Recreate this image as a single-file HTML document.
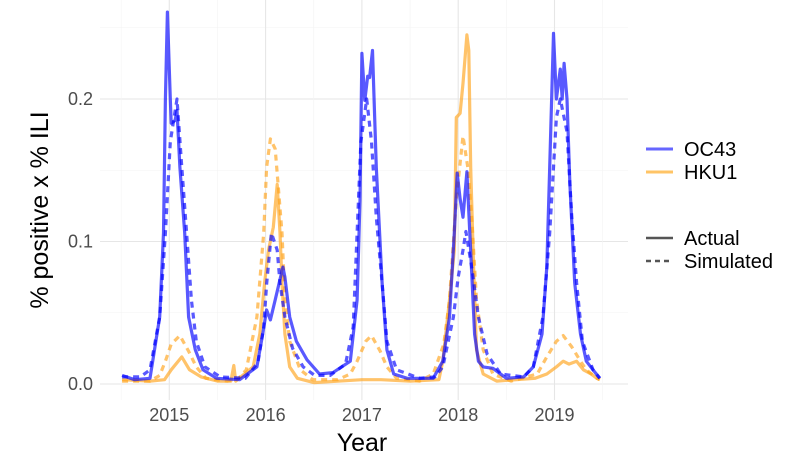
<!DOCTYPE html>
<html><head><meta charset="utf-8"><style>
body{margin:0;background:#fff;}
svg{display:block;font-family:"Liberation Sans",sans-serif;}
</style></head><body>
<svg id="chart" width="797" height="470" xmlns="http://www.w3.org/2000/svg">
<g id="grid"></g>
<g id="series"></g>
<g id="axes"></g>
<text transform="translate(48,210) rotate(-90)" text-anchor="middle" font-size="25" fill="#000">% positive x % ILI</text>
<text x="362" y="451" text-anchor="middle" font-size="25" fill="#000">Year</text>
<g>
<line x1="646" y1="149" x2="673" y2="149" stroke="#6666ff" stroke-width="3"/>
<text x="684" y="156" font-size="20">OC43</text>
<line x1="646" y1="172" x2="673" y2="172" stroke="#ffc466" stroke-width="3"/>
<text x="684" y="179" font-size="20">HKU1</text>
<line x1="646" y1="238" x2="673" y2="238" stroke="#555" stroke-width="2.5"/>
<text x="684" y="245" font-size="20">Actual</text>
<line x1="646" y1="261" x2="673" y2="261" stroke="#555" stroke-width="2.5" stroke-dasharray="5,4"/>
<text x="684" y="268" font-size="20">Simulated</text>
</g>
</svg>
<script>
const yTicks=[0,0.1,0.2];
const yTickLabels=["0.0","0.1","0.2"];
const xTicks=[2015,2016,2017,2018,2019];
const xTickLabels=["2015","2016","2017","2018","2019"];
const oc43ActualYears=[2014.51,2014.64,2014.80,2014.90,2014.94,2014.96,2014.98,2015.01,2015.02,2015.06,2015.08,2015.11,2015.16,2015.20,2015.27,2015.35,2015.49,2015.73,2015.91,2015.97,2016.01,2016.05,2016.10,2016.18,2016.20,2016.25,2016.32,2016.43,2016.56,2016.70,2016.88,2016.95,2016.98,2017.00,2017.03,2017.06,2017.08,2017.11,2017.15,2017.21,2017.26,2017.33,2017.47,2017.74,2017.84,2017.91,2017.96,2017.99,2018.02,2018.05,2018.09,2018.12,2018.17,2018.21,2018.26,2018.36,2018.50,2018.68,2018.78,2018.87,2018.92,2018.95,2018.99,2019.02,2019.06,2019.08,2019.10,2019.13,2019.16,2019.21,2019.27,2019.33,2019.40,2019.47];
const oc43ActualValues=[.006,.003,.004,.047,.106,.2,.261,.2,.183,.185,.192,.152,.106,.047,.024,.01,.004,.003,.012,.035,.052,.045,.059,.082,.075,.047,.03,.017,.007,.008,.016,.059,.129,.232,.199,.216,.215,.234,.152,.071,.024,.007,.004,.004,.016,.047,.106,.148,.13,.117,.149,.106,.035,.016,.012,.011,.004,.005,.012,.035,.082,.152,.246,.2,.221,.2,.225,.2,.14,.071,.035,.016,.01,.004];
const oc43SimYears=[2014.51,2014.70,2014.80,2014.90,2014.96,2015.01,2015.08,2015.13,2015.18,2015.23,2015.28,2015.37,2015.53,2015.79,2015.92,2015.98,2016.01,2016.06,2016.12,2016.15,2016.20,2016.28,2016.39,2016.51,2016.67,2016.83,2016.91,2016.95,2016.99,2017.05,2017.10,2017.15,2017.21,2017.26,2017.36,2017.60,2017.76,2017.84,2017.95,2018.00,2018.05,2018.08,2018.14,2018.21,2018.30,2018.44,2018.68,2018.78,2018.88,2018.95,2019.02,2019.06,2019.13,2019.18,2019.23,2019.29,2019.40,2019.47];
const oc43SimValues=[.005,.005,.01,.047,.106,.17,.2,.152,.106,.059,.03,.012,.005,.004,.015,.04,.07,.106,.094,.071,.047,.025,.012,.006,.006,.014,.04,.106,.17,.2,.17,.117,.071,.03,.01,.004,.005,.012,.047,.075,.094,.107,.082,.047,.021,.007,.005,.012,.047,.106,.187,.2,.177,.117,.071,.03,.01,.004];
const hku1ActualYears=[2014.51,2014.80,2014.95,2015.02,2015.13,2015.21,2015.33,2015.50,2015.64,2015.67,2015.69,2015.87,2015.94,2015.99,2016.03,2016.08,2016.12,2016.15,2016.17,2016.20,2016.25,2016.33,2016.50,2017.00,2017.20,2017.50,2017.80,2017.84,2017.91,2017.96,2017.98,2018.02,2018.05,2018.09,2018.11,2018.13,2018.16,2018.19,2018.26,2018.40,2018.80,2018.92,2019.02,2019.09,2019.15,2019.23,2019.30,2019.38,2019.44,2019.47];
const hku1ActualValues=[.003,.002,.003,.01,.019,.01,.005,.002,.002,.013,.002,.012,.035,.071,.094,.11,.14,.106,.071,.035,.012,.004,.001,.003,.003,.002,.003,.016,.059,.094,.187,.19,.211,.245,.234,.152,.082,.024,.007,.002,.004,.007,.012,.016,.014,.016,.01,.007,.004,.003];
const hku1SimYears=[2014.51,2014.80,2014.90,2014.96,2015.02,2015.11,2015.20,2015.28,2015.38,2015.60,2015.72,2015.80,2015.91,2015.98,2016.01,2016.05,2016.10,2016.13,2016.17,2016.20,2016.25,2016.36,2016.49,2016.75,2016.88,2016.95,2017.04,2017.10,2017.19,2017.26,2017.36,2017.60,2017.74,2017.85,2017.91,2017.98,2018.05,2018.10,2018.14,2018.19,2018.26,2018.36,2018.55,2018.82,2018.92,2019.02,2019.09,2019.18,2019.27,2019.33,2019.44,2019.47];
const hku1SimValues=[.002,.002,.006,.016,.028,.034,.023,.012,.004,.002,.004,.01,.047,.106,.152,.172,.165,.14,.106,.059,.03,.01,.003,.003,.007,.016,.03,.034,.023,.012,.004,.002,.007,.028,.059,.13,.174,.152,.117,.059,.024,.007,.002,.007,.019,.03,.034,.026,.016,.01,.004,.003];

const NS="http://www.w3.org/2000/svg";
const xs=y=>169.3+(y-2015)*96.3;
const ys=v=>384-v*1425;
function mk(tag,attrs,parent){const e=document.createElementNS(NS,tag);for(const k in attrs)e.setAttribute(k,attrs[k]);parent.appendChild(e);return e;}
const grid=document.getElementById('grid'),series=document.getElementById('series'),axes=document.getElementById('axes');
for(let v=0;v<=0.25001;v+=0.05){
  const major=Math.abs(v*10-Math.round(v*10))<1e-6;
  const l=mk('line',{x1:100,x2:628,y1:ys(v),y2:ys(v),stroke:major?'#e6e6e6':'#f3f3f3','stroke-width':major?1.1:0.6},grid);
  
  
}
for(let y=2014.5;y<=2019.5001;y+=0.5){
  const major=Math.abs(y-Math.round(y))<1e-6;
  const l=mk('line',{x1:xs(y),x2:xs(y),y1:0,y2:400,stroke:major?'#e6e6e6':'#f3f3f3','stroke-width':major?1.1:0.6},grid);
  
  
}
yTicks.forEach((v,i)=>{
  const t=mk('text',{x:93,y:ys(v)+6,'text-anchor':'end','font-size':18,fill:'#4d4d4d'},axes);
  t.textContent=yTickLabels[i];
  
  
});
xTicks.forEach((v,i)=>{
  const t=mk('text',{x:xs(v),y:421,'text-anchor':'middle','font-size':18,fill:'#4d4d4d'},axes);
  t.textContent=xTickLabels[i];
  
  
});
function drawLine(xsArr,vals,color,dashed,name){
  const d=xsArr.map((y,i)=>(i?'L':'M')+xs(y).toFixed(1)+','+ys(vals[i]).toFixed(1)).join(' ');
  const p=mk('path',{d:d,fill:'none',stroke:color,'stroke-width':3.2,'stroke-linejoin':'round','stroke-opacity':0.65},series);
  if(dashed)p.setAttribute('stroke-dasharray','6,5');
  
  
}
drawLine(hku1SimYears,hku1SimValues,'#ffa31a',true,'hku1-simulated-line');
drawLine(hku1ActualYears,hku1ActualValues,'#ffa31a',false,'hku1-actual-line');
drawLine(oc43SimYears,oc43SimValues,'#0000ff',true,'oc43-simulated-line');
drawLine(oc43ActualYears,oc43ActualValues,'#0000ff',false,'oc43-actual-line');
</script>
</body></html>
